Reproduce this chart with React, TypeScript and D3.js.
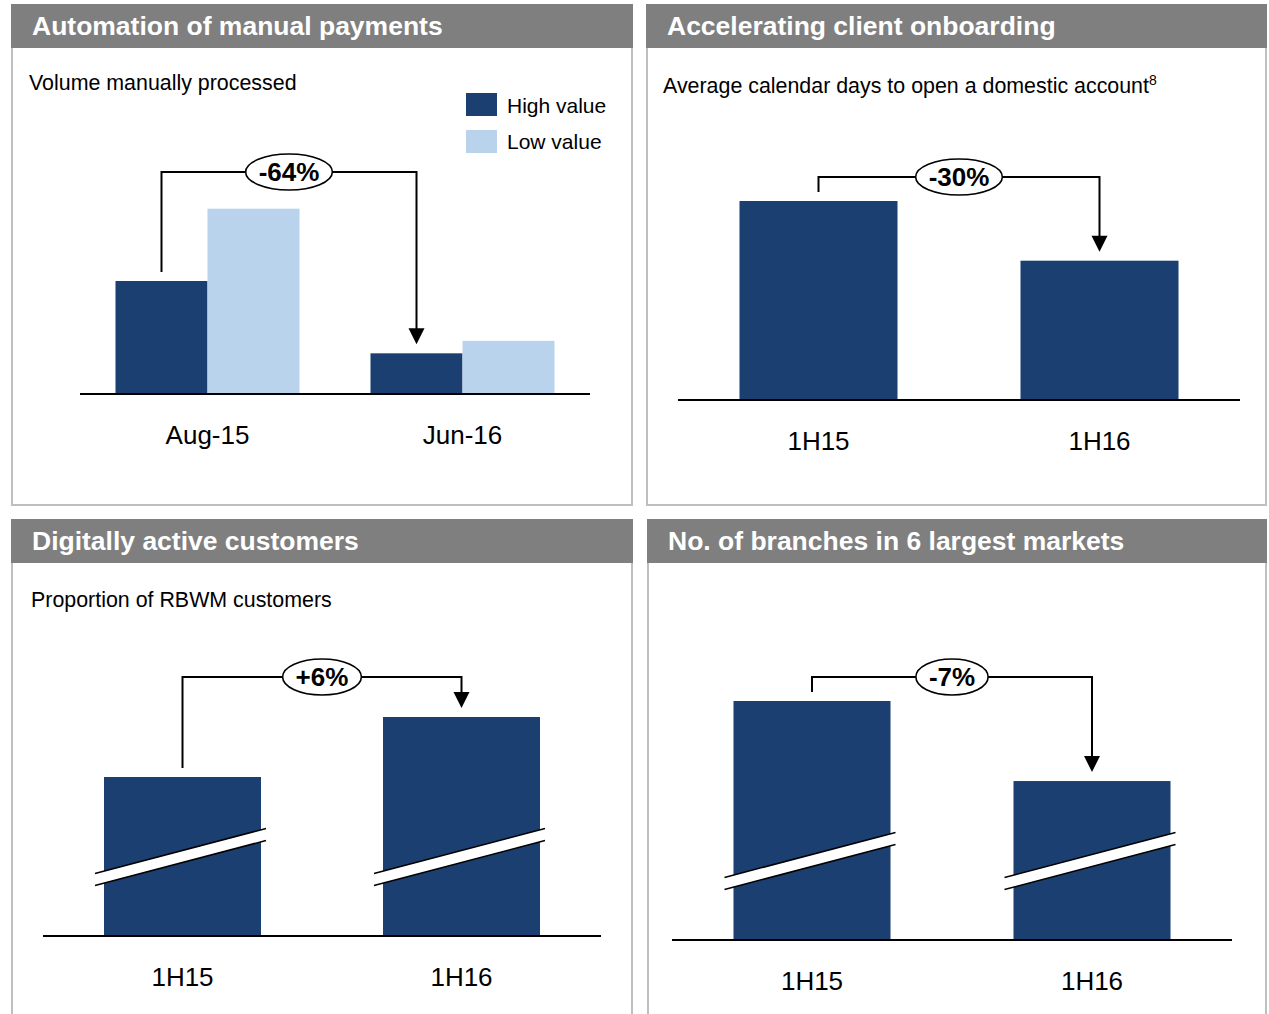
import React from 'react';
import * as d3 from 'd3';

// ---------- data ----------
const paymentCategories = ['Aug-15', 'Jun-16'];
const paymentSeries = ['High value', 'Low value'];
const paymentHigh = [100, 36];
const paymentLow = [164, 47];
const paymentChange = '-64%';

const onboardCategories = ['1H15', '1H16'];
const onboardDays = [100, 70];
const onboardChange = '-30%';

const digitalCategories = ['1H15', '1H16'];
const digitalShare = [100, 106];
const digitalChange = '+6%';

const branchCategories = ['1H15', '1H16'];
const branchCount = [100, 93];
const branchChange = '-7%';

const panelTitles = [
  'Automation of manual payments',
  'Accelerating client onboarding',
  'Digitally active customers',
  'No. of branches in 6 largest markets',
];

// ---------- styles ----------
const NAVY = '#1B3F70';
const LIGHT = '#B9D3EC';
const HEADER = '#7F7F7F';
const BORDER = '#BFBFBF';
const FONT = "'Liberation Sans', Arial, sans-serif";

let ctx: CanvasRenderingContext2D | null = null;
function textWidth(t: string, font: string) {
  if (!ctx) ctx = document.createElement('canvas').getContext('2d');
  if (!ctx) return t.length * 14;
  ctx.font = font;
  return ctx.measureText(t).width;
}

type ChartCfg = {
  key: string;
  cats: string[];
  series: string[];
  values: number[][];
  colors: string[];
  xRange: [number, number];
  baseY: number;
  topY: number;
  domain: [number, number];
  padInner: number;
  bracketY: number;
  change: string;
  broken: boolean;
  labelY: number;
};

function Chart({ cfg }: { cfg: ChartCfg }) {
  const x = d3.scaleBand<string>().domain(cfg.cats).range(cfg.xRange)
    .paddingInner(cfg.padInner).paddingOuter(cfg.padInner / 2);
  const xs = d3.scaleBand<string>().domain(cfg.series).range([0, x.bandwidth()]);
  const y = d3.scaleLinear().domain(cfg.domain).range([cfg.baseY, cfg.topY]);
  const bw = xs.bandwidth();

  const bars: JSX.Element[] = [];
  const breaks: JSX.Element[] = [];
  cfg.series.forEach((s, si) => {
    cfg.cats.forEach((c, ci) => {
      const v = cfg.values[si][ci];
      const bx = (x(c) ?? 0) + (xs(s) ?? 0);
      bars.push(
        <rect key={`${s}-${c}`} x={bx} y={y(v)} width={bw} height={cfg.baseY - y(v)} fill={cfg.colors[si]} />
      );
      if (cfg.broken) {
        const x1 = bx - 9, x2 = bx + bw + 5;
        const cx = (x1 + x2) / 2;
        const cy = cfg.baseY - 79;
        const hl = (x2 - x1) / 2;
        const k = 0.263;
        const g = 6;
        const y1 = cy + hl * k, y2 = cy - hl * k;
        breaks.push(
          <g key={`br-${s}-${c}`}>
            <polygon points={`${x1},${y1 - g} ${x2},${y2 - g} ${x2},${y2 + g} ${x1},${y1 + g}`} fill="#fff" />
            <line x1={x1} y1={y1 - g} x2={x2} y2={y2 - g} stroke="#000" strokeWidth={1.5} />
            <line x1={x1} y1={y1 + g} x2={x2} y2={y2 + g} stroke="#000" strokeWidth={1.5} />
          </g>
        );
      }
    });
  });

  const s0 = cfg.series[0];
  const xL = (x(cfg.cats[0]) ?? 0) + (xs(s0) ?? 0) + bw / 2;
  const xR = (x(cfg.cats[1]) ?? 0) + (xs(s0) ?? 0) + bw / 2;
  const yStart = y(cfg.values[0][0]) - 9;
  const tip = y(cfg.values[0][1]) - 9;
  const ah = 16;
  const mid = (xL + xR) / 2;
  const tw = textWidth(cfg.change, `bold 26px ${FONT}`);

  return (
    <g>
      {bars}
      {breaks}
      <line x1={cfg.xRange[0]} x2={cfg.xRange[1]} y1={cfg.baseY} y2={cfg.baseY} stroke="#000" strokeWidth={2} />
      <path d={`M${xL},${yStart}V${cfg.bracketY}H${xR}V${tip - ah + 1}`} fill="none" stroke="#000" strokeWidth={2} />
      <polygon points={`${xR - 8},${tip - ah} ${xR + 8},${tip - ah} ${xR},${tip}`} fill="#000" />
      <ellipse cx={mid} cy={cfg.bracketY} rx={tw / 2 + 13} ry={18} fill="#fff" stroke="#000" strokeWidth={1.6} />
      <text x={mid} y={cfg.bracketY + 9} textAnchor="middle" fontFamily={FONT} fontWeight="bold" fontSize={26} fill="#000">
        {cfg.change}
      </text>
      {cfg.cats.map((c) => (
        <text key={c} x={(x(c) ?? 0) + x.bandwidth() / 2} y={cfg.labelY} textAnchor="middle" fontFamily={FONT} fontSize={26} fill="#000">
          {c}
        </text>
      ))}
    </g>
  );
}

function Panel({ x0, x1, y0, y1, title, bottomBorder }: { x0: number; x1: number; y0: number; y1: number; title: string; bottomBorder: boolean }) {
  const hh = 44;
  return (
    <g>
      <path
        d={bottomBorder ? `M${x0},${y0 + hh}V${y1}H${x1}V${y0 + hh}` : `M${x0},${y0 + hh}V${y1}M${x1},${y0 + hh}V${y1}`}
        fill="none" stroke={BORDER} strokeWidth={2}
      />
      <rect x={x0 - 1} y={y0} width={x1 - x0 + 2} height={hh} fill={HEADER} />
      <text transform={`translate(${x0 + 20},${y0 + 31}) scale(1.06,1)`} fontFamily={FONT} fontWeight="bold" fontSize={25} fill="#fff">
        {title}
      </text>
    </g>
  );
}

export default function App() {
  const charts: ChartCfg[] = [
    {
      key: 'pay', cats: paymentCategories, series: paymentSeries, values: [paymentHigh, paymentLow],
      colors: [NAVY, LIGHT], xRange: [80, 590], baseY: 394, topY: 281, domain: [0, 100],
      padInner: 1 - 184 / 255, bracketY: 172, change: paymentChange, broken: false, labelY: 444,
    },
    {
      key: 'onb', cats: onboardCategories, series: ['Days'], values: [onboardDays],
      colors: [NAVY], xRange: [678, 1240], baseY: 400, topY: 201, domain: [0, 100],
      padInner: 1 - 158 / 281, bracketY: 177, change: onboardChange, broken: false, labelY: 450,
    },
    {
      key: 'dig', cats: digitalCategories, series: ['Share'], values: [digitalShare],
      colors: [NAVY], xRange: [43, 601], baseY: 936, topY: 777, domain: [84.1, 100],
      padInner: 1 - 157 / 279, bracketY: 677, change: digitalChange, broken: true, labelY: 986,
    },
    {
      key: 'br', cats: branchCategories, series: ['Branches'], values: [branchCount],
      colors: [NAVY], xRange: [672, 1232], baseY: 940, topY: 701, domain: [79.1, 100],
      padInner: 1 - 157 / 280, bracketY: 677, change: branchChange, broken: true, labelY: 990,
    },
  ];

  return (
    <svg width={1269} height={1014} style={{ position: 'absolute', left: 0, top: 0, background: '#fff' }}>
      <rect width={1269} height={1014} fill="#fff" />
      <Panel x0={12} x1={632} y0={4} y1={505} title={panelTitles[0]} bottomBorder />
      <Panel x0={647} x1={1266} y0={4} y1={505} title={panelTitles[1]} bottomBorder />
      <Panel x0={12} x1={632} y0={519} y1={1016} title={panelTitles[2]} bottomBorder={false} />
      <Panel x0={648} x1={1266} y0={519} y1={1016} title={panelTitles[3]} bottomBorder={false} />

      <text x={29} y={90} fontFamily={FONT} fontSize={21.4} fill="#000">Volume manually processed</text>
      <text x={663} y={93} fontFamily={FONT} fontSize={21.4} fill="#000">
        Average calendar days to open a domestic account<tspan fontSize={14} dy={-8}>8</tspan>
      </text>
      <text x={31} y={607} fontFamily={FONT} fontSize={21.4} fill="#000">Proportion of RBWM customers</text>

      {paymentSeries.map((s, i) => (
        <g key={s}>
          <rect x={466} y={93 + i * 37} width={31} height={23} fill={i === 0 ? NAVY : LIGHT} />
          <text x={507} y={113 + i * 36} fontFamily={FONT} fontSize={21} fill="#000">{s}</text>
        </g>
      ))}

      {charts.map((c) => <Chart key={c.key} cfg={c} />)}
    </svg>
  );
}
